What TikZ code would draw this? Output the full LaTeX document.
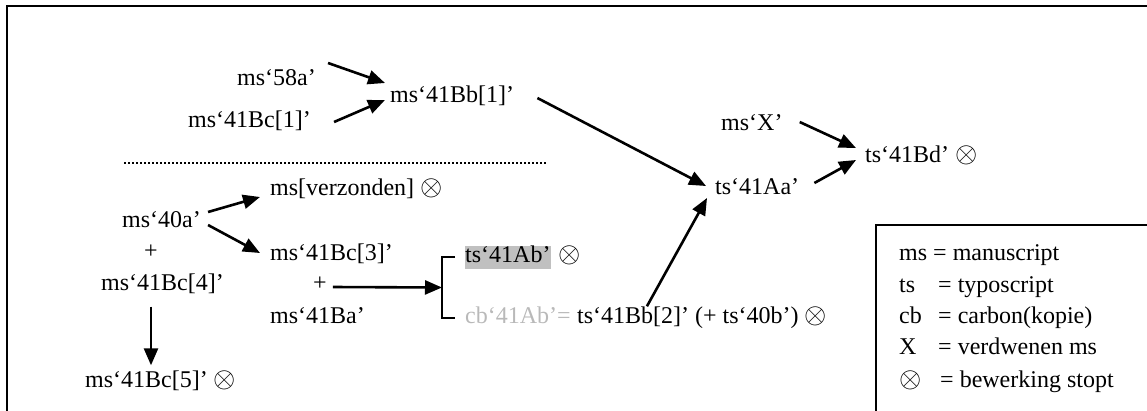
\documentclass[tikz,border=0pt]{standalone}
\usepackage{fontspec}
\setmainfont{Liberation Serif}
\newcommand{\stopmark}{\raisebox{0.5pt}{\scalebox{1.15}{$\otimes$}}}
\usetikzlibrary{arrows.meta,calc}
\definecolor{boxgray}{RGB}{192,192,192}
\definecolor{txtgray}{RGB}{185,185,185}
\begin{document}
\begin{tikzpicture}[x=1pt,y=-1pt,
  txt/.style={inner sep=0pt, text height=17pt, text depth=6pt, font=\fontsize{24}{28}\selectfont},
  arr/.style={line width=2.6pt, -{Triangle[length=17pt,width=14pt]}},
  frameline/.style={line width=2.4pt},
  sepline/.style={line width=1.6pt, dash pattern=on 1.6pt off 2.4pt},
]
\useasboundingbox (0,0) rectangle (1147,410);
\draw[frameline] (7,440) -- (7,6) -- (1180,6);

% upper part
\node[txt,anchor=west] (n58a)   at (237,80)  {ms‘58a’};
\node[txt,anchor=west] (n41Bc1) at (188,122) {ms‘41Bc[1]’};
\node[txt,anchor=west] (n41Bb1) at (390,97)  {ms‘41Bb[1]’};
\node[txt,anchor=west] (nX)     at (721,125) {ms‘X’};
\node[txt,anchor=west] (n41Bd)  at (865,157) {ts‘41Bd’ \stopmark};
\node[txt,anchor=west] (n41Aa)  at (715,189) {ts‘41Aa’};

\coordinate (sepL) at (124,163);
\coordinate (sepR) at (547,163);
\draw[sepline] (sepL) -- (sepR);

% lower part
\node[txt,anchor=west] (nverz)  at (270,190) {ms[verzonden] \stopmark};
\node[txt,anchor=west] (n40a)   at (122,222) {ms‘40a’};
\node[txt] (plus1) at (151,253) {+};
\node[txt,anchor=west] (n41Bc4) at (101,285) {ms‘41Bc[4]’};
\node[txt,anchor=west] (n41Bc5) at (85,382)  {ms‘41Bc[5]’ \stopmark};
\node[txt,anchor=west] (n41Bc3) at (270,255) {ms‘41Bc[3]’};
\node[txt] (plus2) at (320,285) {+};
\node[txt,anchor=west] (n41Ba)  at (270,318) {ms‘41Ba’};
\node[txt,anchor=west,fill=boxgray] (n41Ab) at (465,257) {ts‘41Ab’};
\node[txt,anchor=west] (nAbx) at ($(n41Ab.east)+(8,0)$) {\stopmark};
\node[txt,anchor=west,text=txtgray] (ncbg) at (465,318) {cb‘41Ab’=};
\node[txt,anchor=west] (ncbts) at ($(ncbg.east)+(6,0)$) {ts‘41Bb[2]’ (+ ts‘40b’) \stopmark};

% bracket
\coordinate (brtop) at ($(n41Ab.west)+(-23,0)$);
\coordinate (brbot) at ($(ncbg.west)+(-23,0)$);
\coordinate (brmid) at ($(brtop)!0.5!(brbot)$);
\draw[line width=2.2pt] ($(n41Ab.west)+(-10,0)$) -- (brtop) -- (brbot) -- ($(ncbg.west)+(-10,0)$);

% connectors
\draw[arr] ($(n58a.east)+(12,-17)$) -- ($(n41Bb1.west)+(-5,-14)$);
\draw[arr] ($(n41Bc1.east)+(23,0)$) -- ($(n41Bb1.west)+(-5,3)$);
\draw[arr] ($(n41Bb1.east)+(23,1)$) -- ($(n41Aa.west)+(-9,-3)$);
\draw[arr] ($(nX.east)+(17,-3)$) -- ($(n41Bd.west)+(-9,-9)$);
\draw[arr] ($(n41Aa.east)+(15,-6)$) -- ($(n41Bd.west)+(-9,3)$);
\draw[arr] ($(n40a.east)+(7,-10)$) -- ($(nverz.west)+(-10,7)$);
\draw[arr] ($(n40a.east)+(7,3)$) -- ($(n41Bc3.west)+(-10,-2)$);
\draw[arr] ($(plus1 |- n41Bc4.south)+(0,10)$) -- ($(plus1 |- n41Bc5.north)+(0,-5)$);
\draw[arr] ($(plus2.east)+(6,2)$) -- (brmid);
\draw[arr] ($(ncbts.north west)+(70,0)$) -- ($(n41Aa.west)+(-8,9)$);

% legend
\draw[line width=2pt] (876,440) -- (876,225) -- (1180,225);
\node[txt,anchor=west] (lms) at (899,255) {ms = manuscript};
\node[txt,anchor=west] (lts) at (899,287) {ts};
\node[txt,anchor=west] (ltsd) at (938,287) {= typoscript};
\node[txt,anchor=west] (lcb) at (899,318) {cb};
\node[txt,anchor=west] (lcbd) at (938,318) {= carbon(kopie)};
\node[txt,anchor=west] (lX) at (899,349) {X};
\node[txt,anchor=west] (lXd) at (938,349) {= verdwenen ms};
\node[txt,anchor=west] (lo) at (899,382) {\stopmark};
\node[txt,anchor=west] (lod) at (940,382) {= bewerking stopt};
\end{tikzpicture}
\end{document}
